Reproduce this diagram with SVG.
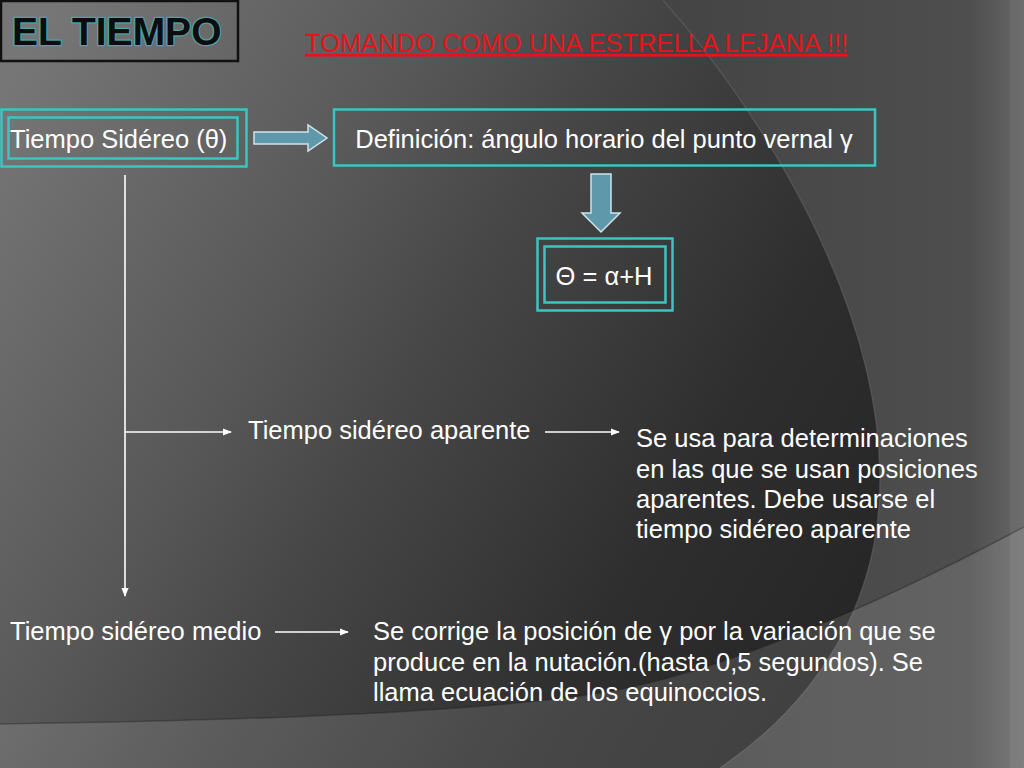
<svg xmlns="http://www.w3.org/2000/svg" width="1024" height="768" viewBox="0 0 1024 768">
  <defs>
    <linearGradient id="gOut" x1="663" y1="0" x2="1024" y2="0" gradientUnits="userSpaceOnUse">
      <stop offset="0" stop-color="#444"/>
      <stop offset="0.85" stop-color="#4e4e4e"/>
      <stop offset="1" stop-color="#676767"/>
    </linearGradient>
    <linearGradient id="gIn" x1="0" y1="100" x2="850" y2="600" gradientUnits="userSpaceOnUse">
      <stop offset="0" stop-color="#767676"/>
      <stop offset="0.35" stop-color="#575757"/>
      <stop offset="0.5" stop-color="#474747"/>
      <stop offset="0.8" stop-color="#2e2e2e"/>
      <stop offset="1" stop-color="#272727"/>
    </linearGradient>
    <marker id="ah" viewBox="0 0 10 10" refX="9" refY="5" markerWidth="9" markerHeight="9" markerUnits="userSpaceOnUse" orient="auto">
      <path d="M0,1 L10,5 L0,9 Z" fill="#ffffff"/>
    </marker>
    <style>
      .lbl { font-family: "Liberation Sans", Arial, sans-serif; font-size: 25.5px; fill: #ffffff; }
      .box { fill: none; stroke: #3cc3c3; stroke-width: 2.5; }
      .conn { stroke: #ffffff; stroke-width: 1.6; fill: none; marker-end: url(#ah); }
      .blk { fill: #5f98ab; stroke: #cfe3ea; stroke-width: 1.5; }
    </style>
  </defs>

  <!-- background -->
  <rect x="0" y="0" width="1024" height="768" fill="url(#gOut)"/>
  <path d="M0,0 L663,0 C760,110 880,300 880,480 C880,600 820,700 720,768 L0,768 Z" fill="url(#gIn)"/>
  <path d="M663,0 C760,110 880,300 880,480 C880,600 820,700 720,768" fill="none" stroke="#6a6a6a" stroke-opacity="0.45" stroke-width="1.5"/>
  <path d="M0,724 Q440,718 600,693 C700,677 850,620 1024,527 L1024,768 L0,768 Z" fill="#ffffff" fill-opacity="0.12"/>
  <path d="M0,724 Q440,718 600,693 C700,677 850,620 1024,527" fill="none" stroke="#1e1e1e" stroke-opacity="0.35" stroke-width="1.5"/>
  <rect x="1010" y="0" width="14" height="768" fill="#ffffff" fill-opacity="0.05"/>

  <!-- title -->
  <g id="title">
    <rect x="1" y="1" width="237" height="60" fill="none" stroke="#111" stroke-width="2.5"/>
    <text x="12" y="45" font-family="'Liberation Sans', Arial, sans-serif" font-weight="bold" font-size="39" fill="#0d0d0d" stroke="#4fa3a8" stroke-width="2.5" paint-order="stroke" stroke-linejoin="round">EL TIEMPO</text>
  </g>

  <g id="subtitle">
    <text x="305" y="52" font-family="'Liberation Sans', Arial, sans-serif" font-size="26" fill="#e5141b" text-decoration="underline" textLength="543" lengthAdjust="spacingAndGlyphs">TOMANDO COMO UNA ESTRELLA LEJANA !!!</text>
  </g>

  <!-- nodes -->
  <g id="tiempo-sidereo">
    <rect class="box" x="1.5" y="109.5" width="245" height="57"/>
    <rect class="box" x="8.5" y="117.5" width="229" height="41"/>
    <text class="lbl" x="10" y="148">Tiempo Sidéreo (θ)</text>
  </g>

  <g id="definicion">
    <rect class="box" x="334" y="109.5" width="541" height="56" stroke-width="2"/>
    <text class="lbl" x="604" y="148" text-anchor="middle">Definición: ángulo horario del punto vernal γ</text>
  </g>

  <g id="formula">
    <rect class="box" x="537.5" y="238.5" width="135" height="72" stroke-width="2"/>
    <rect class="box" x="544.5" y="246.5" width="121" height="56" stroke-width="2"/>
    <text class="lbl" x="604" y="285" text-anchor="middle">Θ = α+H</text>
  </g>

  <g id="aparente">
    <text class="lbl" x="248" y="439">Tiempo sidéreo aparente</text>
  </g>

  <g id="aparente-desc">
    <text class="lbl" x="636">
      <tspan x="636" y="447">Se usa para determinaciones</tspan>
      <tspan x="636" y="478">en las que se usan posiciones</tspan>
      <tspan x="636" y="508">aparentes. Debe usarse el</tspan>
      <tspan x="636" y="538">tiempo sidéreo aparente</tspan>
    </text>
  </g>

  <g id="medio">
    <text class="lbl" x="10" y="640">Tiempo sidéreo medio</text>
  </g>

  <g id="medio-desc">
    <text class="lbl" x="373">
      <tspan x="373" y="640">Se corrige la posición de γ por la variación que se</tspan>
      <tspan x="373" y="671">produce en la nutación.(hasta 0,5 segundos). Se</tspan>
      <tspan x="373" y="701">llama ecuación de los equinoccios.</tspan>
    </text>
  </g>

  <!-- connectors -->
  <g id="connectors">
    <path class="blk" d="M254,132 L308,132 L308,125 L327,138 L308,151 L308,144 L254,144 Z"/>
    <path class="blk" d="M591,174 L611,174 L611,213 L620,213 L601,232 L582,213 L591,213 Z"/>
    <line class="conn" x1="125" y1="175" x2="125" y2="596"/>
    <line class="conn" x1="125" y1="432" x2="231" y2="432"/>
    <line class="conn" x1="545" y1="432" x2="619" y2="432"/>
    <line class="conn" x1="275" y1="632" x2="348" y2="632"/>
  </g>
</svg>
